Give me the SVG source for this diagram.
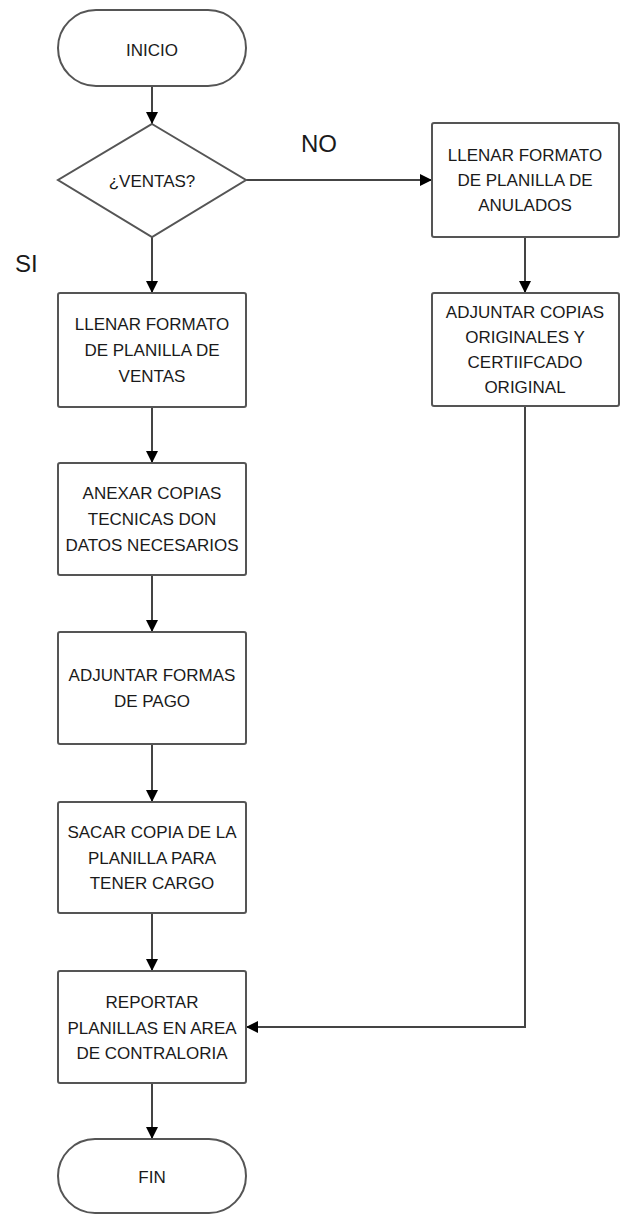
<svg xmlns="http://www.w3.org/2000/svg" width="621" height="1214" viewBox="0 0 621 1214">
  <style>
    .shape { fill: #ffffff; stroke: #555555; stroke-width: 2; }
    .lbl { font-family: "Liberation Sans", Arial, sans-serif; font-size: 17px; fill: #1a1a1a; text-anchor: middle; }
    .branch { font-family: "Liberation Sans", Arial, sans-serif; font-size: 24px; fill: #1a1a1a; }
    .conn { fill: none; stroke: #444444; stroke-width: 2; marker-end: url(#arrow); }
  </style>
  <defs>
    <marker id="arrow" markerWidth="12" markerHeight="12" refX="12" refY="6" orient="auto" markerUnits="userSpaceOnUse">
      <path d="M0,0 L12,6 L0,12 Z" fill="#000000"/>
    </marker>
  </defs>
  <rect width="621" height="1214" fill="#ffffff"/>

  <!-- connectors -->
  <g id="connectors">
    <line class="conn" x1="152" y1="86" x2="152" y2="124"/>
    <line class="conn" x1="246" y1="180" x2="432" y2="180"/>
    <line class="conn" x1="152" y1="237" x2="152" y2="293"/>
    <line class="conn" x1="152" y1="407" x2="152" y2="463"/>
    <line class="conn" x1="152" y1="575" x2="152" y2="632"/>
    <line class="conn" x1="152" y1="744" x2="152" y2="802"/>
    <line class="conn" x1="152" y1="913" x2="152" y2="971"/>
    <line class="conn" x1="152" y1="1083" x2="152" y2="1139"/>
    <line class="conn" x1="525" y1="237" x2="525" y2="293"/>
    <polyline class="conn" points="525,406 525,1027 246,1027"/>
  </g>

  <!-- branch labels -->
  <text class="branch" x="301" y="152" font-size="25">NO</text>
  <text class="branch" x="15" y="272">SI</text>

  <g id="inicio">
    <rect class="shape" x="58" y="10" width="188" height="76" rx="38" ry="38"/>
    <text class="lbl" x="152" y="56">INICIO</text>
  </g>

  <g id="ventas">
    <polygon class="shape" points="152,124 246,180 152,237 58,180"/>
    <text class="lbl" x="152" y="187">¿VENTAS?</text>
  </g>

  <g id="planilla-anulados">
    <rect class="shape" x="432" y="123" width="187" height="114" rx="2"/>
    <text class="lbl" x="525" y="161">LLENAR FORMATO</text>
    <text class="lbl" x="525" y="186">DE PLANILLA DE</text>
    <text class="lbl" x="525" y="211">ANULADOS</text>
  </g>

  <g id="adjuntar-copias">
    <rect class="shape" x="432" y="293" width="187" height="113" rx="2"/>
    <text class="lbl" x="525" y="318">ADJUNTAR COPIAS</text>
    <text class="lbl" x="525" y="343">ORIGINALES Y</text>
    <text class="lbl" x="525" y="368">CERTIIFCADO</text>
    <text class="lbl" x="525" y="393">ORIGINAL</text>
  </g>

  <g id="planilla-ventas">
    <rect class="shape" x="58" y="293" width="188" height="114" rx="2"/>
    <text class="lbl" x="152" y="330">LLENAR FORMATO</text>
    <text class="lbl" x="152" y="356">DE PLANILLA DE</text>
    <text class="lbl" x="152" y="382">VENTAS</text>
  </g>

  <g id="anexar-copias">
    <rect class="shape" x="58" y="463" width="188" height="112" rx="2"/>
    <text class="lbl" x="152" y="499">ANEXAR COPIAS</text>
    <text class="lbl" x="152" y="525">TECNICAS DON</text>
    <text class="lbl" x="152" y="551">DATOS NECESARIOS</text>
  </g>

  <g id="formas-pago">
    <rect class="shape" x="58" y="632" width="188" height="112" rx="2"/>
    <text class="lbl" x="152" y="681">ADJUNTAR FORMAS</text>
    <text class="lbl" x="152" y="707">DE PAGO</text>
  </g>

  <g id="sacar-copia">
    <rect class="shape" x="58" y="802" width="188" height="111" rx="2"/>
    <text class="lbl" x="152" y="838">SACAR COPIA DE LA</text>
    <text class="lbl" x="152" y="864">PLANILLA PARA</text>
    <text class="lbl" x="152" y="889">TENER CARGO</text>
  </g>

  <g id="reportar">
    <rect class="shape" x="58" y="971" width="188" height="112" rx="2"/>
    <text class="lbl" x="152" y="1008">REPORTAR</text>
    <text class="lbl" x="152" y="1034">PLANILLAS EN AREA</text>
    <text class="lbl" x="152" y="1059">DE CONTRALORIA</text>
  </g>

  <g id="fin">
    <rect class="shape" x="58" y="1139" width="188" height="74" rx="37" ry="37"/>
    <text class="lbl" x="152" y="1183">FIN</text>
  </g>
</svg>
